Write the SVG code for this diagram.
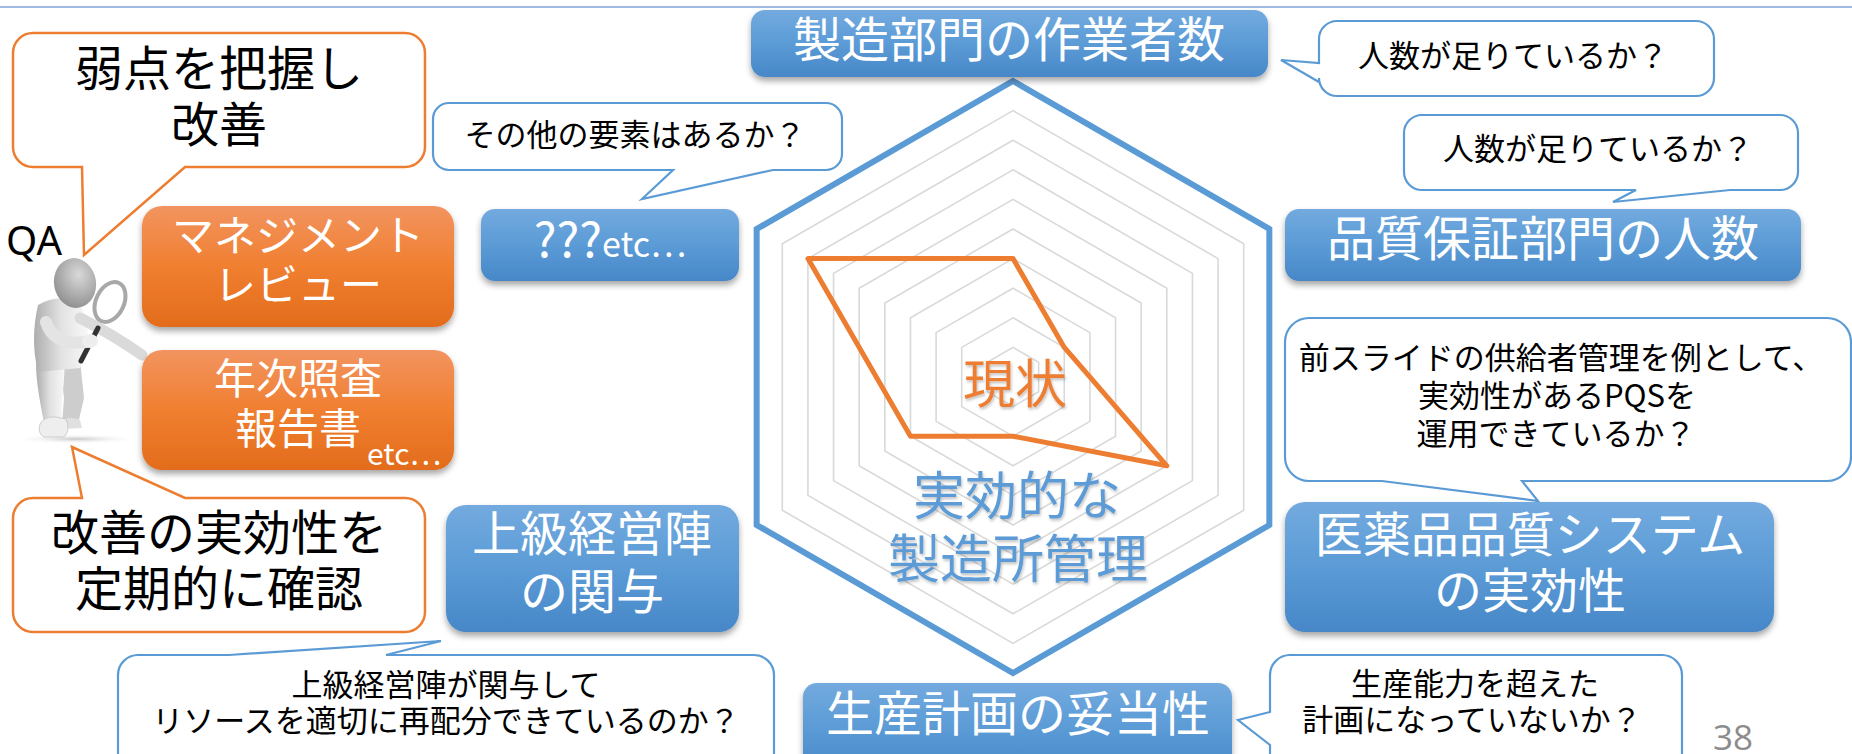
<svg xmlns="http://www.w3.org/2000/svg" width="1852" height="754" viewBox="0 0 1852 754">
  <defs>
    <linearGradient id="gBlue" x1="0" y1="0" x2="0" y2="1">
      <stop offset="0" stop-color="#73AADF"/>
      <stop offset="0.5" stop-color="#5B9BD6"/>
      <stop offset="1" stop-color="#4787C8"/>
    </linearGradient>
    <linearGradient id="gOrange" x1="0" y1="0" x2="0" y2="1">
      <stop offset="0" stop-color="#F29460"/>
      <stop offset="0.5" stop-color="#F07F30"/>
      <stop offset="1" stop-color="#E36C1C"/>
    </linearGradient>
    <linearGradient id="gBody" x1="0" y1="0" x2="1" y2="0">
      <stop offset="0" stop-color="#ADADAD"/>
      <stop offset="0.5" stop-color="#E2E2E2"/>
      <stop offset="1" stop-color="#F8F8F8"/>
    </linearGradient>
    <radialGradient id="gHead" cx="0.62" cy="0.35" r="0.75">
      <stop offset="0" stop-color="#D9D9D9"/>
      <stop offset="1" stop-color="#8A8A8A"/>
    </radialGradient>
    <radialGradient id="gFloor" cx="0.5" cy="0.5" r="0.5">
      <stop offset="0" stop-color="#C8C8C8"/>
      <stop offset="1" stop-color="#FFFFFF" stop-opacity="0"/>
    </radialGradient>
    <filter id="boxShadow" x="-10%" y="-15%" width="120%" height="145%">
      <feDropShadow dx="0" dy="4" stdDeviation="3" flood-color="#000" flood-opacity="0.35"/>
    </filter>
    <filter id="textShadow" x="-10%" y="-20%" width="120%" height="150%">
      <feDropShadow dx="1" dy="2" stdDeviation="1.5" flood-color="#000" flood-opacity="0.25"/>
    </filter>
    <style>
      .jp { font-family: 'Noto Sans CJK JP', 'Noto Sans', sans-serif; }
      .box-b { fill: url(#gBlue); filter: url(#boxShadow); }
      .box-o { fill: url(#gOrange); filter: url(#boxShadow); }
      .lbl { fill: #FFFFFF; font-size: 48px; text-anchor: middle; }
      .lbl-o { fill: #FFFFFF; font-size: 42px; text-anchor: middle; }
      .call-b { fill: #FFFFFF; stroke: #5B9BD5; stroke-width: 2.2; stroke-linejoin: miter; }
      .call-o { fill: #FFFFFF; stroke: #ED7D31; stroke-width: 2.5; stroke-linejoin: miter; }
      .ctext { fill: #000000; font-size: 31px; text-anchor: middle; }
      .btext { fill: #000000; font-size: 48px; text-anchor: middle; }
      .grid { fill: none; stroke: #D9D9D9; stroke-width: 1.6; }
    </style>
  </defs>

  <rect width="1852" height="754" fill="#FFFFFF"/>
  <!-- header rule -->
  <line x1="0" y1="7" x2="1852" y2="7" stroke="#7FA3D6" stroke-width="1.5"/>

  <!-- radar chart: nine grid rings, outer frame, current-state series -->
  <g id="radar">
    <polygon class="grid" points="1013,347.4 1038.63,362.2 1038.63,391.8 1013,406.6 987.37,391.8 987.37,362.2"/>
    <polygon class="grid" points="1013,317.8 1064.27,347.4 1064.27,406.6 1013,436.2 961.73,406.6 961.73,347.4"/>
    <polygon class="grid" points="1013,288.2 1089.9,332.6 1089.9,421.4 1013,465.8 936.1,421.4 936.1,332.6"/>
    <polygon class="grid" points="1013,258.6 1115.54,317.8 1115.54,436.2 1013,495.4 910.46,436.2 910.46,317.8"/>
    <polygon class="grid" points="1013,229 1141.17,303 1141.17,451 1013,525 884.83,451 884.83,303"/>
    <polygon class="grid" points="1013,199.4 1166.81,288.2 1166.81,465.8 1013,554.6 859.19,465.8 859.19,288.2"/>
    <polygon class="grid" points="1013,169.8 1192.44,273.4 1192.44,480.6 1013,584.2 833.56,480.6 833.56,273.4"/>
    <polygon class="grid" points="1013,140.2 1218.07,258.6 1218.07,495.4 1013,613.8 807.93,495.4 807.93,258.6"/>
    <polygon class="grid" points="1013,110.6 1243.71,243.8 1243.71,510.2 1013,643.4 782.29,510.2 782.29,243.8"/>
    <polygon points="1013,81 1269.34,229 1269.34,525 1013,673 756.66,525 756.66,229" fill="none" stroke="#5B9BD5" stroke-width="6"/>
    <polygon points="1013,258.6 1064.27,347.4 1166.81,465.8 1013,436.2 910.46,436.2 807.93,258.6" fill="none" stroke="#ED7D31" stroke-width="5" stroke-linejoin="round"/>
    <text class="jp" x="1015" y="403" font-size="52" fill="#ED7D31" text-anchor="middle" filter="url(#textShadow)">現状</text>
    <text class="jp" x="1017" y="515" font-size="52" fill="#5B9BD5" text-anchor="middle" filter="url(#textShadow)">実効的な</text>
    <text class="jp" x="1018" y="578" font-size="52" fill="#5B9BD5" text-anchor="middle" filter="url(#textShadow)">製造所管理</text>
  </g>

  <!-- inspector figure with magnifying glass -->
  <g id="qa-figure">
    <ellipse cx="76" cy="439" rx="64" ry="5" fill="url(#gFloor)"/>
    <path d="M60,362 L80,360 L84,398 L78,424 L62,424 L64,398 Z" fill="#CDCDCD"/>
    <path d="M62,420 Q70,416 80,420 L82,428 L62,429 Z" fill="#E0E0E0"/>
    <path d="M36,362 L64,360 C66,380 60,402 62,420 L44,422 C40,402 36,382 36,362 Z" fill="url(#gBody)"/>
    <path d="M40,424 Q44,416 56,417 L66,419 Q71,430 64,437 L44,437 Q37,433 40,424 Z" fill="#EEEEEE" stroke="#C4C4C4" stroke-width="0.8"/>
    <path d="M38,305 Q56,294 80,300 L88,330 Q86,352 80,368 L38,372 Q30,340 38,305 Z" fill="url(#gBody)"/>
    <path d="M80,318 Q112,334 142,355" fill="none" stroke="#DADADA" stroke-width="11" stroke-linecap="round"/>
    <line x1="98" y1="328" x2="81" y2="361" stroke="#333333" stroke-width="5" stroke-linecap="round"/>
    <ellipse cx="110" cy="302" rx="14" ry="21" transform="rotate(25 110 302)" fill="#FFFFFF" fill-opacity="0.5" stroke="#A8A8A8" stroke-width="4"/>
    <path d="M46,322 Q54,346 86,342" fill="none" stroke="#E4E4E4" stroke-width="12" stroke-linecap="round"/>
    <ellipse cx="90" cy="341" rx="8" ry="7" fill="#EEEEEE"/>
    <ellipse cx="75" cy="283" rx="21" ry="25" transform="rotate(-10 75 283)" fill="url(#gHead)"/>
  </g>

  <!-- speech callouts -->
  <g id="callouts">
    <g id="callout-weakness">
      <path class="call-o" d="M33,33 H405 A20,20 0 0 1 425,53 V147 A20,20 0 0 1 405,167 H185 L84,255 L82,167 H33 A20,20 0 0 1 13,147 V53 A20,20 0 0 1 33,33 Z"/>
      <text class="jp btext" x="219" y="86">弱点を把握し</text>
      <text class="jp btext" x="219" y="142">改善</text>
    </g>
    <g id="callout-review">
      <path class="call-o" d="M33,498 H82 L72,447 L185,498 H405 A20,20 0 0 1 425,518 V612 A20,20 0 0 1 405,632 H33 A20,20 0 0 1 13,612 V518 A20,20 0 0 1 33,498 Z"/>
      <text class="jp btext" x="219" y="550">改善の実効性を</text>
      <text class="jp btext" x="219" y="606">定期的に確認</text>
    </g>
    <g id="callout-other">
      <path class="call-b" d="M449,103 H826 A16,16 0 0 1 842,119 V154 A16,16 0 0 1 826,170 H773 L642,199 L673,170 H449 A16,16 0 0 1 433,154 V119 A16,16 0 0 1 449,103 Z"/>
      <text class="jp ctext" x="635" y="146">その他の要素はあるか？</text>
    </g>
    <g id="callout-staff">
      <path class="call-b" d="M1337,21 H1696 A18,18 0 0 1 1714,39 V78 A18,18 0 0 1 1696,96 H1337 A18,18 0 0 1 1319,78 V82 L1281,60 L1319,63 V39 A18,18 0 0 1 1337,21 Z"/>
      <text class="jp ctext" x="1513" y="67">人数が足りているか？</text>
    </g>
    <g id="callout-qa-staff">
      <path class="call-b" d="M1422,115 H1780 A18,18 0 0 1 1798,133 V172 A18,18 0 0 1 1780,190 H1730 L1613,202 L1636,190 H1422 A18,18 0 0 1 1404,172 V133 A18,18 0 0 1 1422,115 Z"/>
      <text class="jp ctext" x="1598" y="160">人数が足りているか？</text>
    </g>
    <g id="callout-pqs">
      <path class="call-b" d="M1309,318 H1827 A24,24 0 0 1 1851,342 V457 A24,24 0 0 1 1827,481 H1522 L1538,501 L1382,481 H1309 A24,24 0 0 1 1285,457 V342 A24,24 0 0 1 1309,318 Z"/>
      <text class="jp ctext" x="1561" y="369">前スライドの供給者管理を例として、</text>
      <text class="jp ctext" x="1557" y="407">実効性があるPQSを</text>
      <text class="jp ctext" x="1556" y="445">運用できているか？</text>
    </g>
    <g id="callout-capacity">
      <path class="call-b" d="M1290,655 H1662 A20,20 0 0 1 1682,675 V770 H1270 V745 L1238,720 L1270,712 V675 A20,20 0 0 1 1290,655 Z"/>
      <text class="jp ctext" x="1475" y="695">生産能力を超えた</text>
      <text class="jp ctext" x="1472" y="731">計画になっていないか？</text>
    </g>
    <g id="callout-mgmt">
      <path class="call-b" d="M138,655 H229 L441,641 L386,655 H754 A20,20 0 0 1 774,675 V770 H118 V675 A20,20 0 0 1 138,655 Z"/>
      <text class="jp ctext" x="446" y="696">上級経営陣が関与して</text>
      <text class="jp ctext" x="446" y="732">リソースを適切に再配分できているのか？</text>
    </g>
  </g>

  <!-- axis label nodes -->
  <g id="node-workers">
    <rect class="box-b" x="751" y="10" width="517" height="67" rx="14"/>
    <text class="jp lbl" x="1009" y="57">製造部門の作業者数</text>
  </g>
  <g id="node-other">
    <rect class="box-b" x="481" y="209" width="258" height="72" rx="14"/>
    <text class="jp lbl" x="610" y="257">???<tspan font-size="34">etc…</tspan></text>
  </g>
  <g id="node-qa-staff">
    <rect class="box-b" x="1285" y="209" width="516" height="72" rx="14"/>
    <text class="jp lbl" x="1543" y="256">品質保証部門の人数</text>
  </g>
  <g id="node-pqs">
    <rect class="box-b" x="1285" y="502" width="489" height="130" rx="20"/>
    <text class="jp lbl" x="1530" y="552">医薬品品質システム</text>
    <text class="jp lbl" x="1530" y="608">の実効性</text>
  </g>
  <g id="node-mgmt">
    <rect class="box-b" x="446" y="505" width="293" height="127" rx="20"/>
    <text class="jp lbl" x="592" y="551">上級経営陣</text>
    <text class="jp lbl" x="592" y="609">の関与</text>
  </g>
  <g id="node-plan">
    <rect class="box-b" x="803" y="683" width="429" height="90" rx="14"/>
    <text class="jp lbl" x="1018" y="731">生産計画の妥当性</text>
  </g>
  <g id="node-review">
    <rect class="box-o" x="142" y="206" width="312" height="121" rx="20"/>
    <text class="jp lbl-o" x="298" y="251">マネジメント</text>
    <text class="jp lbl-o" x="298" y="300">レビュー</text>
  </g>
  <g id="node-annual">
    <rect class="box-o" x="142" y="350" width="312" height="120" rx="20"/>
    <text class="jp lbl-o" x="298" y="394">年次照査</text>
    <text class="jp lbl-o" x="298" y="444">報告書</text>
    <text class="jp" x="367" y="465" font-size="30" fill="#FFFFFF">etc…</text>
  </g>

  <text x="6" y="255" font-family="'Noto Sans', 'Liberation Sans', sans-serif" font-size="40" fill="#000000">QA</text>
  <text x="1713" y="750" font-family="'Open Sans', 'Liberation Sans', sans-serif" font-size="35" fill="#8C8C8C">38</text>
</svg>
